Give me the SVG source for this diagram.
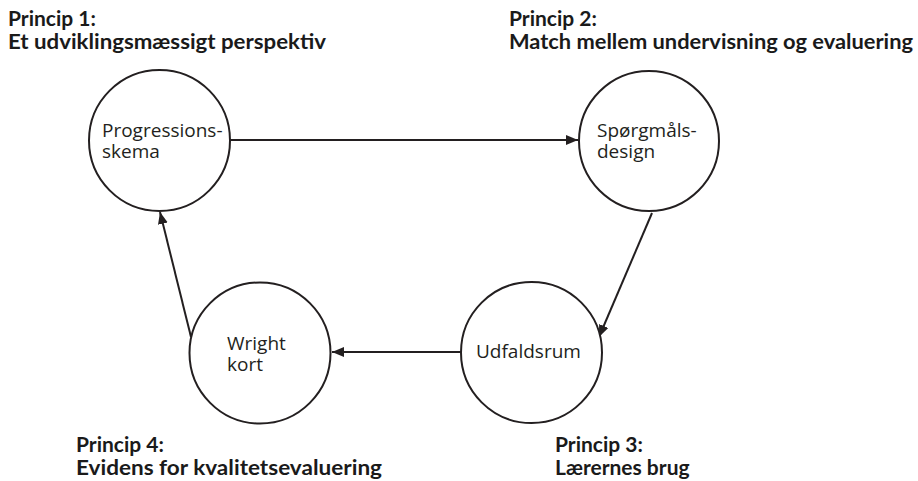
<svg xmlns="http://www.w3.org/2000/svg" width="918" height="481" viewBox="0 0 918 481">
<style>
.hdr{font-family:"Lato","Liberation Sans",sans-serif;font-weight:bold;font-size:21px;fill:#1a1a1a}
.lbl{font-family:"Open Sans","Noto Sans",sans-serif;font-size:19px;fill:#231f20}
.node{fill:#fff;stroke:#231f20;stroke-width:2}
.conn{stroke:#231f20;stroke-width:2;fill:none;marker-end:url(#ah)}
</style>
<defs>
<marker id="ah" markerUnits="userSpaceOnUse" markerWidth="13" markerHeight="11" refX="12" refY="5" orient="auto">
<path d="M0,0 L12,5 L0,10 z" fill="#231f20"/>
</marker>
</defs>
<rect width="918" height="481" fill="#fff"/>
<g id="connectors">
<line class="conn" x1="230" y1="140" x2="578" y2="140"/>
<line class="conn" x1="652" y1="213" x2="599" y2="337"/>
<line class="conn" x1="461" y1="352" x2="332" y2="352"/>
<line class="conn" x1="191" y1="337" x2="160" y2="212"/>
</g>
<g id="node-progressionsskema">
<circle class="node" cx="159.5" cy="140.5" r="70.5"/>
<text class="lbl"><tspan x="102" y="137">Progressions-</tspan><tspan x="102" y="158">skema</tspan></text>
</g>
<g id="node-spoergsmaalsdesign">
<circle class="node" cx="649" cy="141" r="70"/>
<text class="lbl"><tspan x="597" y="137">Spørgmåls-</tspan><tspan x="597" y="158">design</tspan></text>
</g>
<g id="node-udfaldsrum">
<circle class="node" cx="531.5" cy="352.5" r="70.5"/>
<text class="lbl" x="476" y="358">Udfaldsrum</text>
</g>
<g id="node-wright">
<circle class="node" cx="260" cy="353" r="70.5"/>
<text class="lbl"><tspan x="227" y="350">Wright</tspan><tspan x="227" y="371">kort</tspan></text>
</g>
<g id="label-princip1">
<text class="hdr"><tspan x="8" y="26">Princip 1:</tspan><tspan x="8" y="49" textLength="318" lengthAdjust="spacingAndGlyphs">Et udviklingsmæssigt perspektiv</tspan></text>
</g>
<g id="label-princip2">
<text class="hdr"><tspan x="509" y="26">Princip 2:</tspan><tspan x="509" y="49" textLength="404" lengthAdjust="spacingAndGlyphs">Match mellem undervisning og evaluering</tspan></text>
</g>
<g id="label-princip3">
<text class="hdr"><tspan x="555" y="452">Princip 3:</tspan><tspan x="555" y="475">Lærernes brug</tspan></text>
</g>
<g id="label-princip4">
<text class="hdr"><tspan x="76" y="452">Princip 4:</tspan><tspan x="76" y="475" textLength="306" lengthAdjust="spacingAndGlyphs">Evidens for kvalitetsevaluering</tspan></text>
</g>
</svg>
